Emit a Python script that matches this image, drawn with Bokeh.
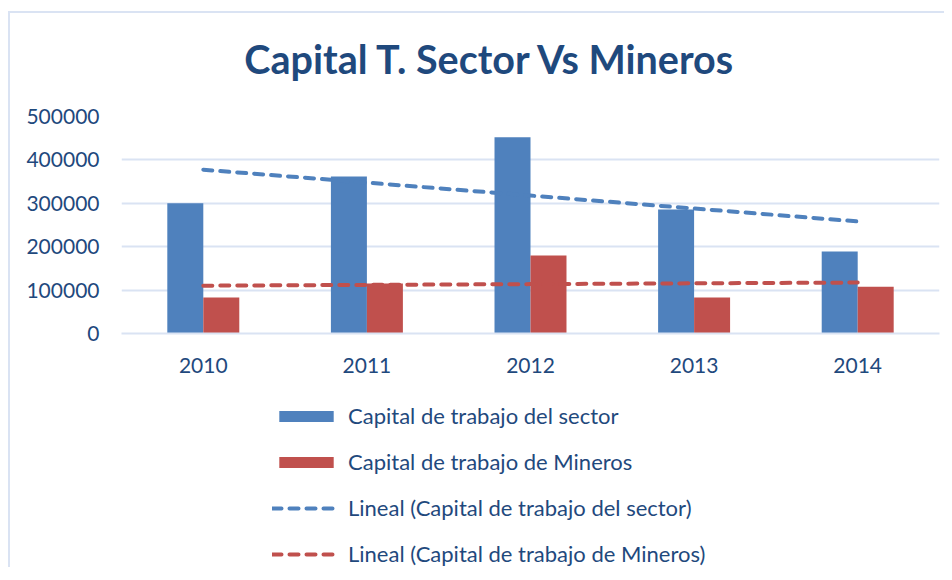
import numpy as np
from bokeh.plotting import figure
from bokeh.layouts import column
from bokeh.models import (Legend, LegendItem, ColumnDataSource, FactorRange, Range1d,
                          NumeralTickFormatter, Label)
from bokeh.transform import dodge
from bokeh.embed import file_html
from bokeh.resources import INLINE

title_text = "Capital T. Sector Vs Mineros"
years = ["2010", "2011", "2012", "2013", "2014"]
sector = [300000, 362000, 452000, 286000, 189000]
mineros = [83000, 115000, 180000, 83000, 108000]
y_ticks = [0, 100000, 200000, 300000, 400000, 500000]
labels = ["Capital de trabajo del sector", "Capital de trabajo de Mineros",
          "Lineal (Capital de trabajo del sector)", "Lineal (Capital de trabajo de Mineros)"]

TXT = "#1F497D"
GRID = "#DAE3F3"
BLUE = "#4F81BD"
RED = "#C0504D"
FONT = "Lato"
DASH = "9 8"

# linear trend lines from the data
idx = np.arange(len(years))
ps = np.polyfit(idx, sector, 1)
pm = np.polyfit(idx, mineros, 1)
trend_s = list(np.polyval(ps, idx))
trend_m = list(np.polyval(pm, idx))

src = ColumnDataSource(dict(years=years, sector=sector, mineros=mineros,
                            trend_s=trend_s, trend_m=trend_m))


def draw_series(fig):
    b1 = fig.vbar(x=dodge("years", -0.11, range=fig.x_range), top="sector", width=0.22, source=src,
                  fill_color=BLUE, line_color=None)
    b2 = fig.vbar(x=dodge("years", 0.11, range=fig.x_range), top="mineros", width=0.22, source=src,
                  fill_color=RED, line_color=None)
    l1 = fig.line(x="years", y="trend_s", source=src, line_color=BLUE, line_width=4,
                  line_dash=DASH, line_cap="round")
    l2 = fig.line(x="years", y="trend_m", source=src, line_color=RED, line_width=4,
                  line_dash=DASH, line_cap="round")
    return [b1, b2, l1, l2]


# ---- title strip
tf = figure(width=934, height=80, output_backend="svg", toolbar_location=None,
            x_axis_type=None, y_axis_type=None, min_border=0,
            x_range=Range1d(0, 1), y_range=Range1d(0, 1))
tf.outline_line_color = None
tf.grid.grid_line_color = None
tf.add_layout(Label(x=369, y=35, x_units="screen", y_units="screen", text=title_text,
                    text_font=FONT, text_font_size="39.5px", text_font_style="bold",
                    text_color=TXT, text_align="center", text_baseline="alphabetic"))

# ---- main chart
p = figure(x_range=FactorRange(*years, range_padding=0), y_range=Range1d(0, 500000),
           frame_width=818, frame_height=217, output_backend="svg", toolbar_location=None,
           min_border_left=111, min_border_right=5, min_border_top=23, min_border_bottom=0)
draw_series(p)

p.outline_line_color = None
p.xgrid.grid_line_color = None
p.ygrid.grid_line_color = GRID
p.ygrid.grid_line_width = 2
p.yaxis.ticker = y_ticks
p.yaxis.formatter = NumeralTickFormatter(format="0")
p.yaxis.axis_line_color = None
p.yaxis.major_tick_line_color = None
p.yaxis.minor_tick_line_color = None
p.yaxis.major_label_standoff = 16
p.xaxis.axis_line_color = GRID
p.xaxis.axis_line_width = 2
p.xaxis.major_tick_line_color = None
p.xaxis.minor_tick_line_color = None
p.xaxis.major_label_standoff = 18
for ax in (p.xaxis, p.yaxis):
    ax.major_label_text_font = FONT
    ax.major_label_text_font_size = "21px"
    ax.major_label_text_color = TXT

# ---- legend strip: same series, drawn on a range far above the data so only the legend shows
lf = figure(width=934, height=192, output_backend="svg", toolbar_location=None,
            x_axis_type=None, y_axis_type=None, min_border=0,
            x_range=FactorRange(*years), y_range=Range1d(1e7, 2e7))
lf.outline_line_color = None
lf.grid.grid_line_color = None
rs = draw_series(lf)

legend = Legend(items=[LegendItem(label=t, renderers=[r]) for t, r in zip(labels, rs)],
                location=(151, 0), orientation="vertical")
legend.label_text_font = FONT
legend.label_text_font_size = "22px"
legend.label_text_color = TXT
legend.glyph_width = 68
legend.glyph_height = 14
legend.label_height = 26
legend.spacing = 19
legend.padding = 0
legend.margin = 0
legend.label_standoff = 8
legend.border_line_color = None
legend.background_fill_alpha = 0
lf.add_layout(legend, "center")

layout = column(tf, p, lf, spacing=0,
                styles={"border-top": "2px solid " + GRID, "border-left": "2px solid " + GRID,
                        "margin-top": "11px", "margin-left": "8px"})

open("out.html", "w").write(file_html(layout, INLINE))
